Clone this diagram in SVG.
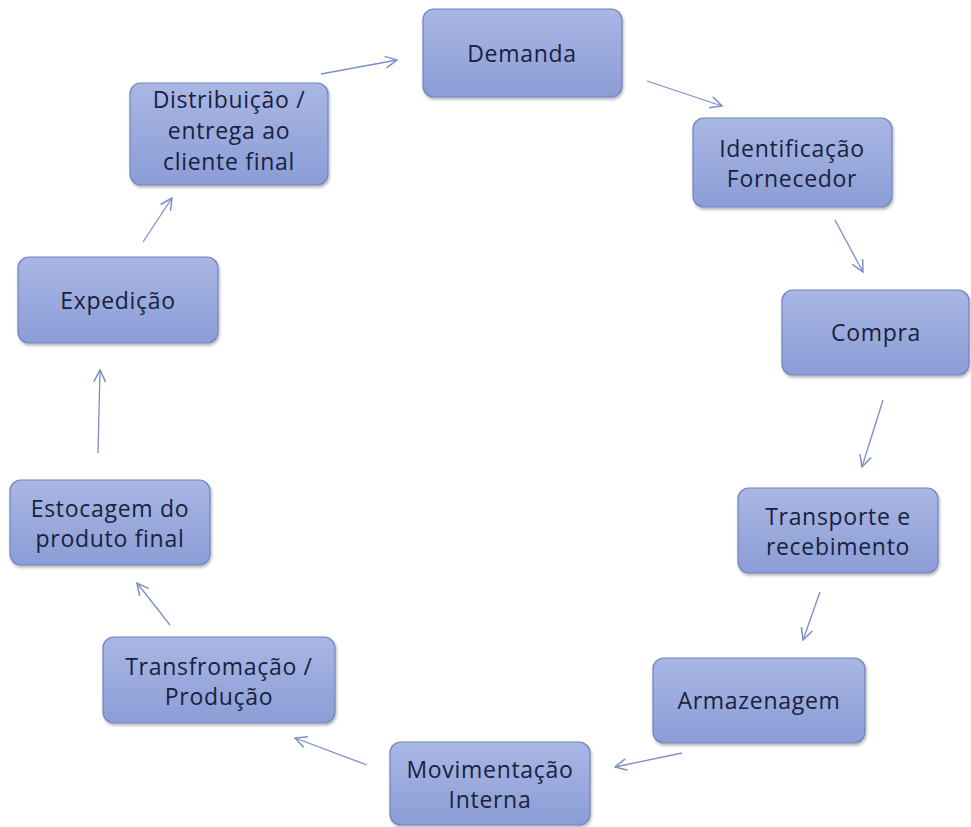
<svg xmlns="http://www.w3.org/2000/svg" width="971" height="827" viewBox="0 0 971 827">
<defs>
<linearGradient id="g" x1="0" y1="0" x2="0" y2="1">
<stop offset="0" stop-color="#a9b7e4"/>
<stop offset="1" stop-color="#8b9dd6"/>
</linearGradient>
<filter id="sh" x="-10%" y="-10%" width="125%" height="130%">
<feDropShadow dx="1" dy="2" stdDeviation="1.8" flood-color="#000" flood-opacity="0.3"/>
</filter>
<marker id="ah" viewBox="0 0 12 12" refX="11" refY="6" markerWidth="14" markerHeight="14" markerUnits="userSpaceOnUse" orient="auto">
<path d="M1,1 L11,6 L1,11" fill="none" stroke="#7d8ec8" stroke-width="1.3"/>
</marker>
<style>
.box{fill:url(#g);stroke:#7183bf;stroke-width:1.2;filter:url(#sh)}
.t{font-family:"Open Sans","Liberation Sans",sans-serif;font-size:23px;letter-spacing:0.7px;fill:#18213d;text-anchor:middle}
.c{fill:none;stroke:#7d8ec8;stroke-width:1.3;marker-end:url(#ah)}
</style>
</defs>
<rect width="971" height="827" fill="#fff"/>
<g id="connectors">
<line class="c" x1="321" y1="74" x2="397" y2="60"/>
<line class="c" x1="647" y1="81" x2="722" y2="106"/>
<line class="c" x1="835" y1="220" x2="863" y2="272"/>
<line class="c" x1="883" y1="400" x2="862" y2="467"/>
<line class="c" x1="820" y1="592" x2="803" y2="640"/>
<line class="c" x1="682" y1="753" x2="615" y2="767"/>
<line class="c" x1="367" y1="765" x2="295" y2="738"/>
<line class="c" x1="170" y1="625" x2="137" y2="583"/>
<line class="c" x1="98" y1="453" x2="100" y2="370"/>
<line class="c" x1="143" y1="242" x2="172" y2="198"/>
</g>
<g id="demanda">
<rect class="box" x="423" y="9" width="199" height="88" rx="11"/>
<text class="t" x="522" y="62">Demanda</text>
</g>
<g id="identificacao">
<rect class="box" x="693" y="118" width="199" height="89" rx="11"/>
<text class="t" x="792" y="157">Identificação</text>
<text class="t" x="792" y="187">Fornecedor</text>
</g>
<g id="compra">
<rect class="box" x="782" y="290" width="187" height="85" rx="11"/>
<text class="t" x="876" y="341">Compra</text>
</g>
<g id="transporte">
<rect class="box" x="738" y="488" width="200" height="85" rx="11"/>
<text class="t" x="838" y="525">Transporte e</text>
<text class="t" x="838" y="555">recebimento</text>
</g>
<g id="armazenagem">
<rect class="box" x="653" y="658" width="212" height="85" rx="11"/>
<text class="t" x="759" y="709">Armazenagem</text>
</g>
<g id="movimentacao">
<rect class="box" x="390" y="742" width="200" height="83" rx="11"/>
<text class="t" x="490" y="778">Movimentação</text>
<text class="t" x="490" y="808">Interna</text>
</g>
<g id="transformacao">
<rect class="box" x="103" y="637" width="232" height="86" rx="11"/>
<text class="t" x="219" y="675">Transfromação /</text>
<text class="t" x="219" y="705">Produção</text>
</g>
<g id="estocagem">
<rect class="box" x="10" y="480" width="200" height="85" rx="11"/>
<text class="t" x="110" y="517">Estocagem do</text>
<text class="t" x="110" y="547">produto final</text>
</g>
<g id="expedicao">
<rect class="box" x="18" y="257" width="200" height="86" rx="11"/>
<text class="t" x="118" y="309">Expedição</text>
</g>
<g id="distribuicao">
<rect class="box" x="130" y="83" width="198" height="102" rx="11"/>
<text class="t" x="229" y="108">Distribuição /</text>
<text class="t" x="229" y="139">entrega ao</text>
<text class="t" x="229" y="170">cliente final</text>
</g>
</svg>
